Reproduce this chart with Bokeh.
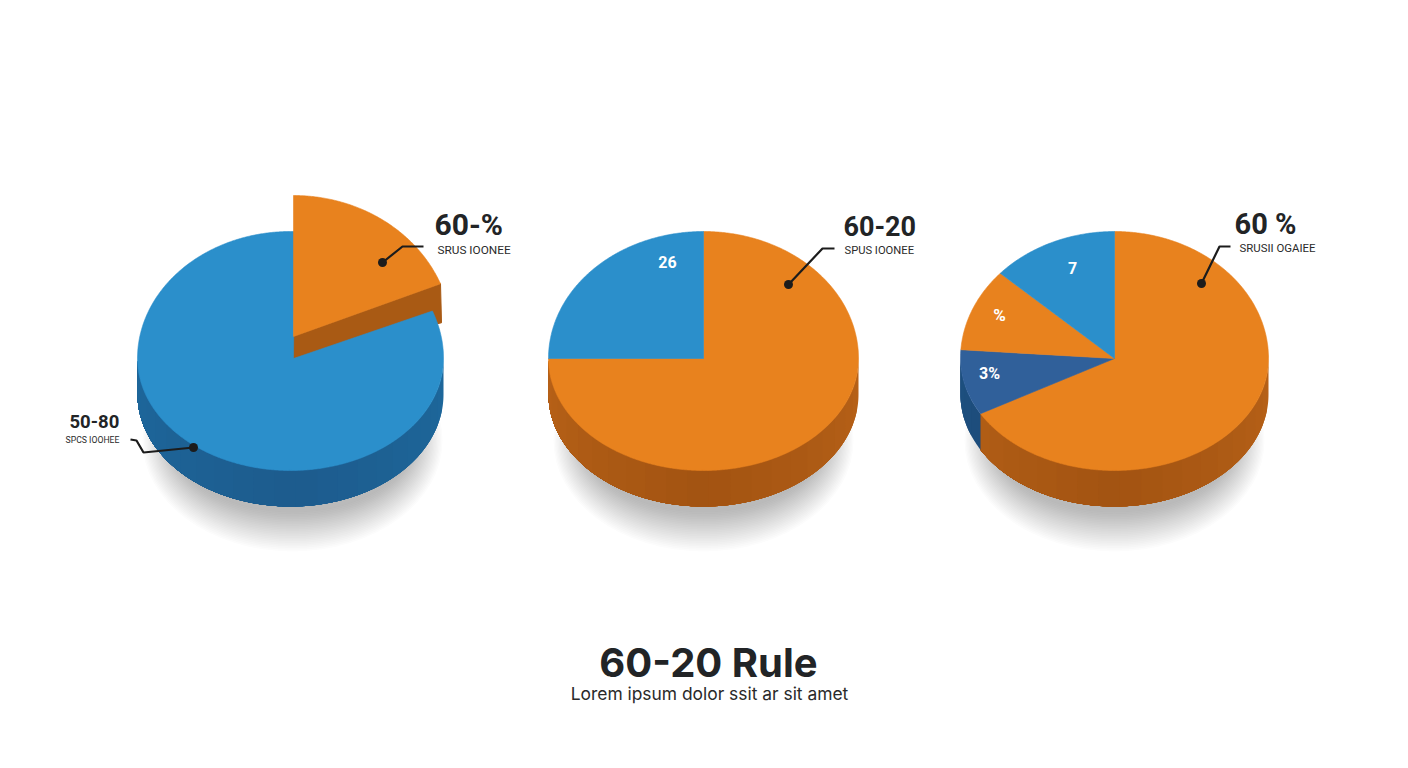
import numpy as np
from bokeh.plotting import figure
from bokeh.models import Range1d
from bokeh.core.properties import value
from bokeh.embed import file_html
from bokeh.resources import INLINE

# ---- data ----
pie1_shares = [18.9, 81.1]          # exploded orange, blue
pie2_shares = [75.0, 25.0]          # orange, blue
pie3_shares = [66.8, 9.3, 10.6, 13.3]  # orange, dark blue, orange, blue
pie1_big = ["60-%", "50-80"]
pie1_small = ["SRUS IOONEE", "SPCS IOOHEE"]
pie2_big = "60-20"
pie2_small = "SPUS IOONEE"
pie3_big = "60 %"
pie3_small = "SRUSII OGAIEE"
pie2_inner = ["26"]
pie3_inner = ["3%", "%", "7"]
title = "60-20 Rule"
subtitle = "Lorem ipsum dolor ssit ar sit amet"

ORANGE, ORANGE_W1, ORANGE_W2 = "#E8821E", (184, 98, 24), (163, 84, 18)
BLUE, BLUE_W1, BLUE_W2 = "#2B8FCB", (30, 104, 156), (29, 92, 142)
NAVY, NAVY_W1, NAVY_W2 = "#30609A", (30, 80, 128), (28, 72, 116)
INK = "#222426"

p = figure(width=1392, height=752, x_range=Range1d(0, 1392), y_range=Range1d(752, 0),
           toolbar_location=None, output_backend="svg", min_border=0,
           background_fill_color="white", border_fill_color="white", outline_line_color=None)
p.axis.visible = False
p.grid.visible = False

TOP_RY, LOW_RY, DEPTH = 127.0, 112.0, 36.0


def rim(cx, cy, rx, deg, top=TOP_RY, low=LOW_RY):
    t = np.radians(deg)
    c = np.cos(t)
    return cx + rx * np.sin(t), cy - np.where(c >= 0, top, low) * c


def wedge(cx, cy, rx, a0, a1, color, top=TOP_RY, low=LOW_RY, apex_x=None):
    d = np.linspace(a0, a1, max(int(abs(a1 - a0) * 2), 4))
    x, y = rim(cx, cy, rx, d, top, low)
    ax = cx if apex_x is None else apex_x
    p.patch(np.r_[ax, x], np.r_[cy, y], fill_color=color, line_color=color, line_width=0.6)


def wall(cx, cy, rx, a0, a1, c0, c1):
    a0 = max(a0, 90.0)
    a1 = min(a1, 270.0)
    if a1 <= a0:
        return
    # painter's order: every band reaches the wall's far end, so there are no seams
    for d0 in np.arange(a0, a1, 8.0):
        d = np.linspace(d0, a1, max(int(a1 - d0), 4))
        x, y = rim(cx, cy, rx, d)
        f = abs((d0 + 4.0 - 90.0) / 180.0 - 0.5) * 2
        col = tuple(int(c1[i] + (c0[i] - c1[i]) * f) for i in range(3))
        p.patch(np.r_[x, x[::-1]], np.r_[y, y[::-1] + DEPTH], fill_color="#%02x%02x%02x" % col, line_color=None)


def shadow(cx):
    for k in range(24):
        w = 300 - k * 2.6
        h = 222 - k * 3.4
        p.ellipse(cx, 440, width=w, height=h, fill_color="#303030", fill_alpha=0.014, line_color=None)


def deg(shares):
    return np.r_[0, np.cumsum(shares)] * 3.6


# ---- shadows ----
for cx in (292, 703, 1114):
    shadow(cx)

# ---- pie 1 ----
cx1, rx1 = 290, 153
a1 = deg(pie1_shares)
wall(cx1, 358, rx1, 90, 270, BLUE_W1, BLUE_W2)
# exploded slice
ex, ey, erx, ery = 293, 336, 158.5, 141
sx, sy = rim(ex, ey, erx, a1[1], ery, ery)
p.patch([ex, float(sx), float(sx) + 1, ex], [ey, float(sy), float(sy) + 39, ey + 22],
        fill_color="#A95A14", line_color="#A95A14")
wedge(cx1, 358, rx1, a1[1], a1[2] + 1.5, BLUE, apex_x=293)
wedge(ex, ey, erx, a1[0], a1[1], ORANGE, ery, ery)

# ---- pie 2 ----
cx2, rx2 = 703, 155
a2 = deg(pie2_shares)
wall(cx2, 358, rx2, a2[0], a2[1], ORANGE_W1, ORANGE_W2)
wedge(cx2, 358, rx2, a2[0], a2[1], ORANGE)
wedge(cx2, 358, rx2, a2[1], a2[2], BLUE)

# ---- pie 3 ----
cx3, rx3 = 1114, 154
a3 = deg(pie3_shares)
wall(cx3, 358, rx3, a3[0], a3[1], ORANGE_W1, ORANGE_W2)
wall(cx3, 358, rx3, a3[1], a3[2], NAVY_W1, NAVY_W2)
for i, c in enumerate([ORANGE, NAVY, ORANGE, BLUE]):
    wedge(cx3, 358, rx3, a3[i], a3[i + 1], c)

# ---- leaders ----
for xs, ys in [([382, 402, 423], [262, 246, 246]),
               ([788, 822, 834], [284, 248, 248]),
               ([1201, 1219, 1230], [283, 246, 246]),
               ([193, 143, 136, 130], [447, 452, 440, 439])]:
    p.line(xs, ys, line_color="#1c1c1c", line_width=2.2)
    p.scatter([xs[0]], [ys[0]], size=9, fill_color="#1c1c1c", line_color=None)


def txt(x, y, s, size, color=INK, style="bold", font="Roboto", align="left"):
    p.text([x], [y], text=[s], text_font=value(font), text_font_size=size, text_font_style=style,
           text_color=color, text_align=align, text_baseline="middle")


txt(434, 224, pie1_big[0], "30px")
txt(437, 249, pie1_small[0], "11.8px", "#2a2a2a", "normal")
txt(69, 421, pie1_big[1], "18.5px")
txt(65, 439, pie1_small[1], "8.7px", "#2a2a2a", "normal")
txt(843, 225, pie2_big, "27px")
txt(844, 250, pie2_small, "11.2px", "#2a2a2a", "normal")
txt(1234, 223, pie3_big, "29px")
txt(1239, 247, pie3_small, "11.4px", "#2a2a2a", "normal")
txt(667, 261, pie2_inner[0], "16px", "white", "bold", align="center")
txt(989, 373, pie3_inner[0], "16px", "white", "bold", align="center")
txt(999, 314, pie3_inner[1], "17px", "white", "bold", align="center")
txt(1072, 267, pie3_inner[2], "16px", "white", "bold", align="center")
txt(708, 662, title, "40px", "#222426", "bold", "Inter", "center")
txt(709, 693, subtitle, "17.4px", "#2a2a2a", "normal", "Inter", "center")

open("out.html", "w").write(file_html(p, INLINE))
